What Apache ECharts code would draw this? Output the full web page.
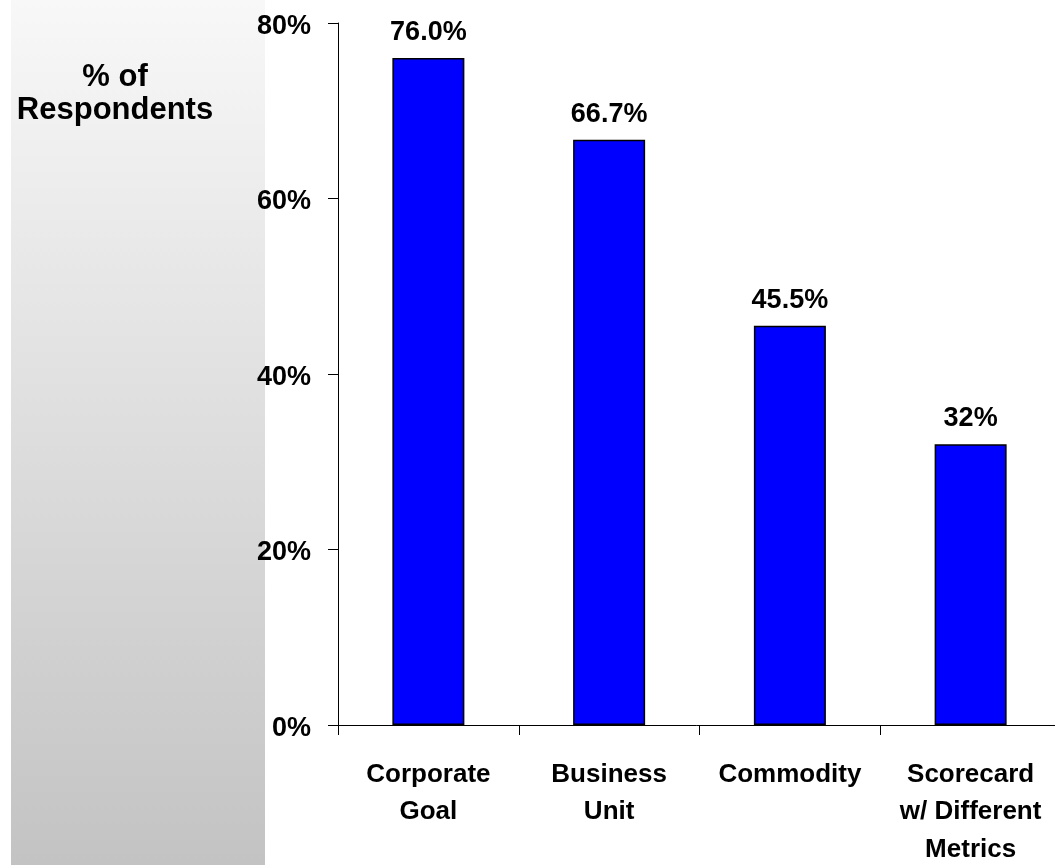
<!DOCTYPE html>
<html>
<head>
<meta charset="utf-8">
<script src="https://cdn.jsdelivr.net/npm/echarts@6/dist/echarts.min.js"></script>
<style>
  html, body { margin: 0; padding: 0; background: #fff; overflow: hidden; }
  #chart { width: 1055px; height: 865px; }
</style>
</head>
<body>
<div id="chart"></div>
<script>
// data
var categories = ["Corporate\nGoal", "Business\nUnit", "Commodity", "Scorecard\nw/ Different\nMetrics"];
var values = [76.0, 66.7, 45.5, 32];
var valueLabels = ["76.0%", "66.7%", "45.5%", "32%"];
var yTicks = [0, 20, 40, 60, 80];

var font = "Liberation Sans, Arial, sans-serif";
var myChart = echarts.init(document.getElementById("chart"));

var option = {
    animation: false,
    backgroundColor: "#fff",
    graphic: [
        {
            type: "rect",
            z: -10,
            shape: { x: 11, y: 0, width: 254, height: 865 },
            style: {
                fill: new echarts.graphic.LinearGradient(0, 0, 0, 1, [
                    { offset: 0, color: "#f8f8f8" },
                    { offset: 1, color: "#c3c3c3" }
                ])
            }
        },
        {
            type: "text",
            x: 115,
            y: 61,
            style: {
                text: "% of\nRespondents",
                font: "bold 31px " + font,
                fill: "#000",
                align: "center",
                verticalAlign: "top",
                lineHeight: 33
            }
        }
    ],
    grid: { left: 338, top: 23, width: 723, height: 702, outerBoundsMode: "none", containLabel: false },
    xAxis: {
        type: "category",
        data: categories,
        axisLine: { lineStyle: { color: "#000", width: 1 } },
        axisTick: { show: true, length: 10, lineStyle: { color: "#000" } },
        axisLabel: {
            color: "#000",
            fontFamily: font,
            fontWeight: "bold",
            fontSize: 26,
            lineHeight: 37.5,
            margin: 31,
            interval: 0
        }
    },
    yAxis: {
        type: "value",
        min: 0,
        max: 80,
        interval: 20,
        splitLine: { show: false },
        axisLine: { show: true, lineStyle: { color: "#000", width: 1 } },
        axisTick: { show: true, length: 10, lineStyle: { color: "#000" } },
        axisLabel: {
            color: "#000",
            fontFamily: font,
            fontWeight: "bold",
            fontSize: 27,
            margin: 27,
            verticalAlign: "top",
            lineHeight: 7,
            formatter: function (v) { return yTicks.indexOf(v) >= 0 ? v + "%" : ""; }
        }
    },
    series: [{
        type: "bar",
        data: values,
        barWidth: 72,
        itemStyle: { color: "#0000ff", borderColor: "#000", borderWidth: 1.5 },
        label: {
            show: true,
            position: "top",
            distance: 12,
            color: "#000",
            fontFamily: font,
            fontWeight: "bold",
            fontSize: 27,
            formatter: function (p) { return valueLabels[p.dataIndex]; }
        }
    }]
};
myChart.setOption(option);
</script>
</body>
</html>
